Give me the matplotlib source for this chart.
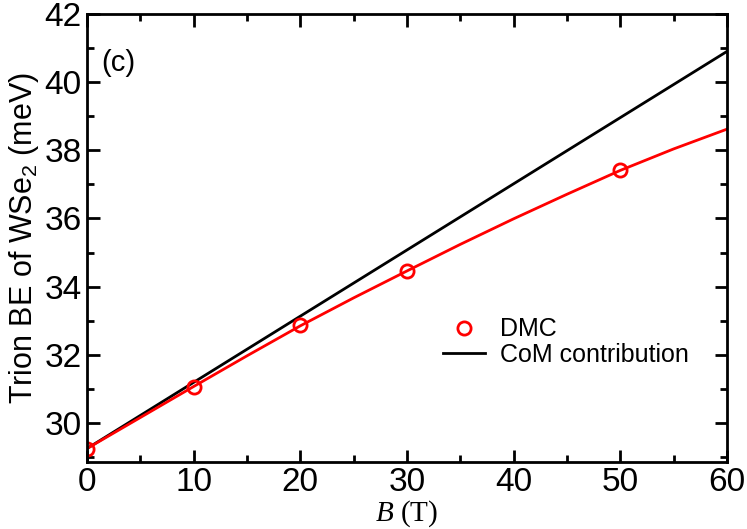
import matplotlib
matplotlib.use("Agg")
import matplotlib.pyplot as plt
from matplotlib.ticker import MultipleLocator

plt.rcParams['font.family'] = ['Liberation Sans', 'DejaVu Sans']
plt.rcParams['mathtext.fontset'] = 'custom'
plt.rcParams['mathtext.it'] = 'Liberation Serif:italic'
plt.rcParams['mathtext.rm'] = 'Liberation Sans'
plt.rcParams['mathtext.default'] = 'regular'

# DMC points
b_dmc = [0, 10, 20, 30, 50]
be_dmc = [29.25, 31.05, 32.87, 34.45, 37.42]

# fitted curve through DMC
b_fit = [0, 5, 10, 15, 20, 25, 30, 35, 40, 45, 50, 55, 60]
be_fit = [29.25, 30.16, 31.07, 31.97, 32.85, 33.67, 34.46, 35.24, 35.99, 36.71, 37.41, 38.04, 38.62]

# centre-of-mass contribution (straight line)
b_com = [0, 60]
be_com = [29.25, 40.9]

fig = plt.figure(figsize=(7.47, 5.29), dpi=100)
ax = fig.add_axes([0.1165, 0.127, 0.8565, 0.8465])

ax.plot(b_com, be_com, color='black', lw=2.0, label='CoM contribution')
ax.plot(b_fit, be_fit, color='red', lw=2.0)
ax.plot(b_dmc, be_dmc, 'o', mfc='none', mec='red', mew=2.0, ms=9.5, label='DMC')

ax.set_xlim(0, 60)
ax.set_ylim(28.86, 42)
ax.xaxis.set_major_locator(MultipleLocator(10))
ax.xaxis.set_minor_locator(MultipleLocator(5))
ax.yaxis.set_major_locator(MultipleLocator(2))
ax.yaxis.set_minor_locator(MultipleLocator(1))
ax.tick_params(which='both', direction='in', top=True, right=True, width=2.0)
ax.tick_params(which='major', length=9, labelsize=24, pad=4)
ax.tick_params(which='minor', length=5)
for s in ax.spines.values():
    s.set_linewidth(2.0)

ax.set_ylabel('Trion BE of WSe$_2$ (meV)', fontsize=22, labelpad=2)
ax.set_xlabel('$\\it{B}$ (T)', fontsize=21, family='Liberation Serif', labelpad=0)

ax.text(0.022, 0.89, '(c)', transform=ax.transAxes, fontsize=21, va='center')

h, l = ax.get_legend_handles_labels()
ax.legend([h[1], h[0]], [l[1], l[0]], loc='upper left', bbox_to_anchor=(0.54, 0.345),
          frameon=False, fontsize=18, handlelength=1.7, handletextpad=0.6,
          labelspacing=0.05, borderaxespad=0)

fig.savefig('out.png', dpi=100)
